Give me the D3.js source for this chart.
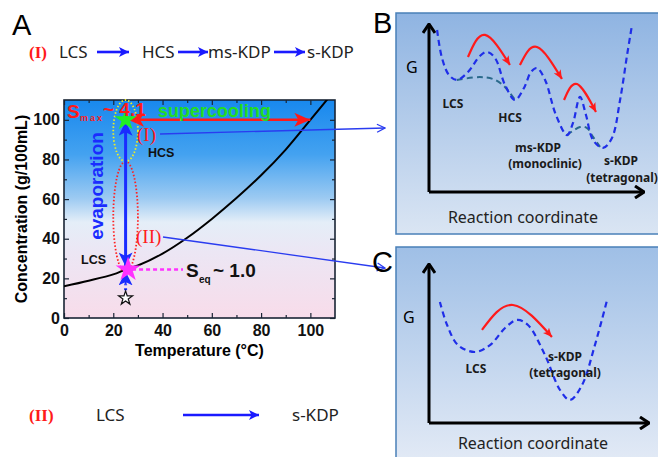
<!DOCTYPE html>
<html>
<head>
<meta charset="utf-8">
<script src="https://cdn.jsdelivr.net/npm/d3@7"></script>
<style>
  body { margin: 0; background: #fff; }
  svg text { font-family: "Liberation Sans", Arial, sans-serif; }
</style>
</head>
<body>
<div id="chart"></div>
<script>
// Solubility curve of KDP
const temps = [0, 10, 20, 25, 30, 40, 50, 60, 70, 80, 90, 100, 108];
const solub = [16, 18.8, 22, 24.5, 26.5, 32.5, 40.5, 50, 60.5, 72, 85, 100, 112];
const xTicks = [0, 20, 40, 60, 80, 100];
const yTicks = [0, 20, 40, 60, 80, 100];
const minorTicks = [10, 30, 50, 70, 90];

// Key points on the phase diagram (temperature, concentration)
const startPoint = [25, 10];
const eqPoint = [26, 24.5];
const maxPoint = [25, 100];
const supercoolEnd = [100, 100];

// Energy landscape B, in (reaction coordinate, G) units 0-100
const bMain = [[3.8,95.3],[6.1,78.8],[9.4,68.8],[13.1,65.9],[18.3,70.6],[23.9,80.0],[27.2,82.4],
  [31.0,78.8],[35.7,62.9],[40.4,54.1],[44.6,61.2],[47.9,70.6],[50.7,72.9],[54.5,65.9],[59.6,45.3],
  [64.8,33.5],[67.6,40.6],[70.9,55.9],[73.7,45.3],[77.0,30.6],[81.7,25.9],[85.9,31.8],[89.7,54.1],
  [93.0,80.6],[95.3,98.2]];
const bAlt1 = [[13.1,65.9],[23.9,67.6],[30.0,66.5],[34.7,62.9],[38.0,58.2],[40.4,54.1]];
const bAlt2 = [[64.8,33.5],[70.9,38.2],[74.2,37.6],[77.0,32.4],[80.3,26.5]];
const bHops = [
  [[18.3,79.4],[26.3,92.4],[38.0,74.7]],
  [[42.7,74.7],[50.7,85.3],[62.4,66.5]],
  [[63.4,54.1],[69.5,63.5],[78.4,47.1]]
];
// Energy landscape C
const cMain = [[5.0,75.2],[8.3,60.9],[13.3,48.4],[21.1,44.1],[28.0,48.4],[34.9,59.0],[40.4,64.0],
  [45.4,60.9],[53.2,42.2],[60.1,20.5],[64.7,14.3],[70.2,23.6],[76.1,48.4],[81.7,76.4]];
const cHops = [[[24.3,57.8],[38.5,73.3],[56.4,53.4]]];

const W = 658, H = 457;
const svg = d3.select("#chart").append("svg")
    .attr("width", W).attr("height", H);
const defs = svg.append("defs");

function vGrad(id, stops) {
    const g = defs.append("linearGradient").attr("id", id)
        .attr("x1", 0).attr("y1", 0).attr("x2", 0).attr("y2", 1);
    stops.forEach(s => g.append("stop").attr("offset", s[0]).attr("stop-color", s[1]));
}
vGrad("plotBg", [[0, "#1888ee"], [0.25, "#44a2f0"], [0.45, "#9ccaf2"], [0.56, "#e4eef8"],
                 [0.7, "#ece6f4"], [1, "#f8dcea"]]);
vGrad("boxB", [[0, "#8fb4e2"], [1, "#dae5f3"]]);
vGrad("boxC", [[0, "#9fbfe6"], [1, "#e4ebf6"]]);

function headMarker(id, color, len, wid) {
    defs.append("marker").attr("id", id)
        .attr("viewBox", `0 0 ${len} ${wid}`)
        .attr("refX", len).attr("refY", wid / 2)
        .attr("markerWidth", len).attr("markerHeight", wid)
        .attr("markerUnits", "userSpaceOnUse")
        .attr("orient", "auto-start-reverse")
        .append("path").attr("d", `M0,0L${len},${wid/2}L0,${wid}L${len*0.25},${wid/2}Z`)
        .attr("fill", color);
}
headMarker("redHead", "#ff1a1a", 16, 14);
headMarker("blueHead", "#1a2cff", 14, 14);
headMarker("smallRed", "#ff1a1a", 9, 8);
headMarker("pathBlue", "#1a1aff", 10, 10);

function chevron(id, color, len, wid, sw) {
    defs.append("marker").attr("id", id)
        .attr("viewBox", `-1 -1 ${len + 2} ${wid + 2}`)
        .attr("refX", len).attr("refY", wid / 2)
        .attr("markerWidth", len + 2).attr("markerHeight", wid + 2)
        .attr("markerUnits", "userSpaceOnUse")
        .attr("orient", "auto")
        .append("path").attr("d", `M0,0L${len},${wid/2}L0,${wid}`)
        .attr("fill", "none").attr("stroke", color).attr("stroke-width", sw);
}
chevron("openBlue", "#2a3cf0", 8, 8, 1.3);
chevron("blackHead", "#000", 9, 12, 3);

// ---------- Panel A ----------
svg.append("text").attr("x", 12).attr("y", 35).attr("font-size", 29).text("A");

function pathway(y, label, items, arrows) {
    svg.append("text").attr("x", 29).attr("y", y)
        .style("font-family", "'Liberation Serif', serif").attr("font-weight", "bold")
        .attr("font-size", 17).attr("fill", "#ff1a1a").text(label);
    items.forEach(d => svg.append("text").attr("x", d[0]).attr("y", y)
        .style("font-family", "'Noto Sans', sans-serif").attr("font-size", 17)
        .attr("fill", "#222").text(d[1]));
    arrows.forEach(a => svg.append("line")
        .attr("x1", a[0]).attr("x2", a[1]).attr("y1", y - 6).attr("y2", y - 6)
        .attr("stroke", "#1a1aff").attr("stroke-width", 2.6)
        .attr("marker-end", "url(#pathBlue)"));
}
pathway(58, "(I)", [[59, "LCS"], [142, "HCS"], [208, "ms-KDP"], [307, "s-KDP"]],
        [[97, 129], [178, 208], [274, 305]]);
pathway(421, "(II)", [[96, "LCS"], [292, "s-KDP"]], [[183, 259]]);

const x = d3.scaleLinear().domain([0, 110]).range([64, 335]);
const y = d3.scaleLinear().domain([0, 110]).range([318, 100]);

const plot = svg.append("g");
plot.append("rect").attr("x", x(0)).attr("y", y(110))
    .attr("width", x(110) - x(0)).attr("height", y(0) - y(110))
    .attr("fill", "url(#plotBg)");

// axes with inward ticks
function addAxis(axis, tr, labels) {
    const g = plot.append("g").attr("transform", tr).call(axis);
    g.select(".domain").remove();
    g.selectAll("line").attr("stroke", "#1a2535").attr("stroke-width", 1.2);
    g.selectAll("text").attr("font-size", 16).attr("font-weight", "bold")
        .attr("fill", "#111").style("font-family", "'Liberation Sans', Arial, sans-serif");
    if (!labels) g.selectAll("text").remove();
    return g;
}
addAxis(d3.axisBottom(x).tickValues(xTicks).tickSize(-5).tickPadding(7), `translate(0,${y(0)})`, true);
addAxis(d3.axisBottom(x).tickValues(minorTicks).tickSize(-3).tickFormat(""), `translate(0,${y(0)})`, false);
addAxis(d3.axisTop(x).tickValues(xTicks).tickSize(-5), `translate(0,${y(110)})`, false);
addAxis(d3.axisTop(x).tickValues(minorTicks).tickSize(-3), `translate(0,${y(110)})`, false);
addAxis(d3.axisLeft(y).tickValues(yTicks).tickSize(-5).tickPadding(4), `translate(${x(0)},0)`, true);
addAxis(d3.axisLeft(y).tickValues(minorTicks).tickSize(-3).tickFormat(""), `translate(${x(0)},0)`, false);
addAxis(d3.axisRight(y).tickValues(yTicks).tickSize(-5), `translate(${x(110)},0)`, false);
addAxis(d3.axisRight(y).tickValues(minorTicks).tickSize(-3), `translate(${x(110)},0)`, false);

plot.append("rect").attr("x", x(0)).attr("y", y(110))
    .attr("width", x(110) - x(0)).attr("height", y(0) - y(110))
    .attr("fill", "none").attr("stroke", "#1a2535").attr("stroke-width", 1.6);

svg.append("text").attr("x", (x(0) + x(110)) / 2).attr("y", 356)
    .attr("text-anchor", "middle").attr("font-size", 16).attr("font-weight", "bold")
    .text("Temperature (°C)");
svg.append("text").attr("transform", `translate(27,${(y(0) + y(110)) / 2}) rotate(-90)`)
    .attr("text-anchor", "middle").attr("font-size", 16).attr("font-weight", "bold")
    .text("Concentration (g/100mL)");

// solubility curve, clipped to the frame
defs.append("clipPath").attr("id", "plotClip").append("rect")
    .attr("x", x(0)).attr("y", y(110)).attr("width", x(110) - x(0)).attr("height", y(0) - y(110));
const sol = temps.map((t, i) => [t, solub[i]]);
plot.append("path").datum(sol).attr("clip-path", "url(#plotClip)")
    .attr("d", d3.line().x(d => x(d[0])).y(d => y(d[1])).curve(d3.curveCatmullRom))
    .attr("fill", "none").attr("stroke", "#000").attr("stroke-width", 2);

// ellipses
plot.append("ellipse").attr("cx", x(25)).attr("cy", y(51))
    .attr("rx", x(5) - x(0)).attr("ry", y(0) - y(28))
    .attr("fill", "none").attr("stroke", "#ff2020").attr("stroke-width", 1.8)
    .attr("stroke-dasharray", "1.5,2");
plot.append("ellipse").attr("cx", x(25)).attr("cy", y(94.5))
    .attr("rx", x(5) - x(0)).attr("ry", y(0) - y(15.5))
    .attr("fill", "none").attr("stroke", "#f0f020").attr("stroke-width", 1.8)
    .attr("stroke-dasharray", "1.5,2");

// evaporation arrow
plot.append("line").attr("x1", x(maxPoint[0])).attr("x2", x(maxPoint[0]))
    .attr("y1", y(26)).attr("y2", y(99))
    .attr("stroke", "#1a2cff").attr("stroke-width", 3)
    .attr("marker-start", "url(#blueHead)").attr("marker-end", "url(#blueHead)");
plot.append("line").attr("x1", x(startPoint[0])).attr("x2", x(startPoint[0]))
    .attr("y1", y(11.5)).attr("y2", y(17))
    .attr("stroke", "#1a2cff").attr("stroke-width", 3).attr("stroke-dasharray", "2,3");
plot.append("line").attr("x1", x(25)).attr("x2", x(25))
    .attr("y1", y(17)).attr("y2", y(23.5))
    .attr("stroke", "#1a2cff").attr("stroke-width", 2)
    .attr("marker-end", "url(#blueHead)");

// supercooling arrow
plot.append("line").attr("x1", x(maxPoint[0] + 1)).attr("x2", x(supercoolEnd[0]))
    .attr("y1", y(maxPoint[1])).attr("y2", y(supercoolEnd[1]))
    .attr("stroke", "#ff1a1a").attr("stroke-width", 2.6)
    .attr("marker-start", "url(#redHead)").attr("marker-end", "url(#redHead)");

// S_eq dotted line
plot.append("line").attr("x1", x(eqPoint[0]) + 4).attr("x2", 183)
    .attr("y1", y(eqPoint[1])).attr("y2", y(eqPoint[1]))
    .attr("stroke", "#ff30ff").attr("stroke-width", 2.4).attr("stroke-dasharray", "4,3");

// stars
const star = d3.symbol().type(d3.symbolStar);
plot.append("path").attr("d", star.size(150)())
    .attr("transform", `translate(${x(maxPoint[0])},${y(maxPoint[1])})`).attr("fill", "#22ee22");
plot.append("path").attr("d", star.size(190)())
    .attr("transform", `translate(${x(eqPoint[0])},${y(eqPoint[1])})`).attr("fill", "#ff30ff");
plot.append("path").attr("d", star.size(60)())
    .attr("transform", `translate(${x(startPoint[0])},${y(startPoint[1])})`)
    .attr("fill", "#ffffff").attr("stroke", "#111").attr("stroke-width", 1.2);

// annotation text
svg.append("text").attr("x", 67).attr("y", 118).attr("font-size", 19)
    .attr("font-weight", "bold").attr("fill", "#ff1a1a").text("S");
svg.append("text").attr("x", 80).attr("y", 121).attr("font-size", 9)
    .attr("font-weight", "bold").attr("fill", "#ff1a1a").attr("letter-spacing", 2).text("max");
svg.append("text").attr("x", 103).attr("y", 116).attr("font-size", 19)
    .attr("font-weight", "bold").attr("fill", "#ff1a1a").text("~ 4.1");
svg.append("text").attr("x", 158).attr("y", 117).attr("font-size", 18)
    .attr("font-weight", "bold").attr("fill", "#22dd22").text("supercooling");
svg.append("text").attr("transform", "translate(103,186) rotate(-90)")
    .attr("text-anchor", "middle").attr("font-size", 19).attr("font-weight", "bold")
    .attr("fill", "#1a2cff").text("evaporation");
svg.append("text").attr("x", 137).attr("y", 141).attr("font-size", 19)
    .style("font-family", "'Liberation Serif', serif").attr("fill", "#ff1a1a").text("(I)");
svg.append("text").attr("x", 136).attr("y", 243).attr("font-size", 19)
    .style("font-family", "'Liberation Serif', serif").attr("fill", "#ff1a1a").text("(II)");
svg.append("text").attr("x", 148).attr("y", 157).attr("font-size", 12.5)
    .attr("font-weight", "bold").attr("fill", "#111").text("HCS");
svg.append("text").attr("x", 81).attr("y", 264).attr("font-size", 12.5)
    .attr("font-weight", "bold").attr("fill", "#111").text("LCS");
svg.append("text").attr("x", 186).attr("y", 277).attr("font-size", 19)
    .attr("font-weight", "bold").attr("fill", "#111").text("S");
svg.append("text").attr("x", 199).attr("y", 283).attr("font-size", 10)
    .attr("font-weight", "bold").attr("fill", "#111").text("eq");
svg.append("text").attr("x", 213).attr("y", 277).attr("font-size", 19)
    .attr("font-weight", "bold").attr("fill", "#111").text("~ 1.0");

// connector lines to panels B and C
svg.append("line").attr("x1", 160).attr("y1", 134).attr("x2", 385).attr("y2", 128)
    .attr("stroke", "#2a3cf0").attr("stroke-width", 1.3).attr("marker-end", "url(#openBlue)");
svg.append("line").attr("x1", 163).attr("y1", 237).attr("x2", 385).attr("y2", 268)
    .attr("stroke", "#2a3cf0").attr("stroke-width", 1.3).attr("marker-end", "url(#openBlue)");

// ---------- Panels B and C ----------
function energyPanel(o) {
    svg.append("rect").attr("x", o.box[0]).attr("y", o.box[1])
        .attr("width", o.box[2]).attr("height", o.box[3])
        .attr("fill", `url(#${o.grad})`).attr("stroke", "#4a80b8").attr("stroke-width", 1.5);
    svg.append("text").attr("x", o.letter[0]).attr("y", o.letter[1])
        .attr("font-size", 29).text(o.name);
    const px = d3.scaleLinear().domain([0, 100]).range(o.xr);
    const py = d3.scaleLinear().domain([0, 100]).range(o.yr);
    const line = d3.line().x(d => px(d[0])).y(d => py(d[1])).curve(d3.curveCatmullRom.alpha(0.5));

    const g = svg.append("g");
    g.append("path").attr("d", `M${px(0)},${py(0)}L${px(0)},${py(100) + 2}`)
        .attr("stroke", "#000").attr("stroke-width", 3).attr("marker-end", "url(#blackHead)");
    g.append("path").attr("d", `M${px(0)},${py(0)}L${px(100) + 2},${py(0)}`)
        .attr("stroke", "#000").attr("stroke-width", 3).attr("marker-end", "url(#blackHead)");

    (o.alts || []).forEach(a => g.append("path").attr("d", line(a))
        .attr("fill", "none").attr("stroke", "#2a6a8c").attr("stroke-width", 2)
        .attr("stroke-dasharray", "6,4"));
    g.append("path").attr("d", line(o.main))
        .attr("fill", "none").attr("stroke", "#1f2ee8").attr("stroke-width", 2.2)
        .attr("stroke-dasharray", "6,4");
    o.hops.forEach(h => g.append("path")
        .attr("d", d3.line().x(d => px(d[0])).y(d => py(d[1])).curve(d3.curveNatural)(h))
        .attr("fill", "none").attr("stroke", "#ff1a1a").attr("stroke-width", 2.2)
        .attr("marker-end", "url(#smallRed)"));

    svg.append("text").attr("x", o.g[0]).attr("y", o.g[1])
        .style("font-family", "'Noto Sans', sans-serif").attr("font-size", 16).text("G");
    svg.append("text").attr("x", o.rc[0]).attr("y", o.rc[1]).attr("text-anchor", "middle")
        .style("font-family", "'Noto Sans', sans-serif").attr("font-size", 16)
        .attr("fill", "#222").text("Reaction coordinate");
    o.labels.forEach(l => svg.append("text").attr("x", l[0]).attr("y", l[1])
        .attr("text-anchor", "middle").style("font-family", "'Noto Sans', sans-serif")
        .attr("font-weight", "bold").attr("font-size", 12).attr("fill", "#1a1a1a").text(l[2]));
}

energyPanel({
    name: "B", letter: [373, 33], box: [396, 13, 270, 221], grad: "boxB",
    xr: [429, 642], yr: [192, 22],
    main: bMain, alts: [bAlt1, bAlt2], hops: bHops,
    g: [406, 73], rc: [523, 223],
    labels: [[453, 108, "LCS"], [510, 122, "HCS"], [538, 152, "ms-KDP"],
             [545, 168, "(monoclinic)"], [621, 165, "s-KDP"], [622, 182, "(tetragonal)"]]
});
energyPanel({
    name: "C", letter: [372, 272], box: [396, 247, 270, 220], grad: "boxC",
    xr: [429, 647], yr: [423, 262],
    main: cMain, hops: cHops,
    g: [403, 323], rc: [533, 449],
    labels: [[476, 373, "LCS"], [565, 361, "s-KDP"], [565, 377, "(tetragonal)"]]
});
</script>
</body>
</html>
